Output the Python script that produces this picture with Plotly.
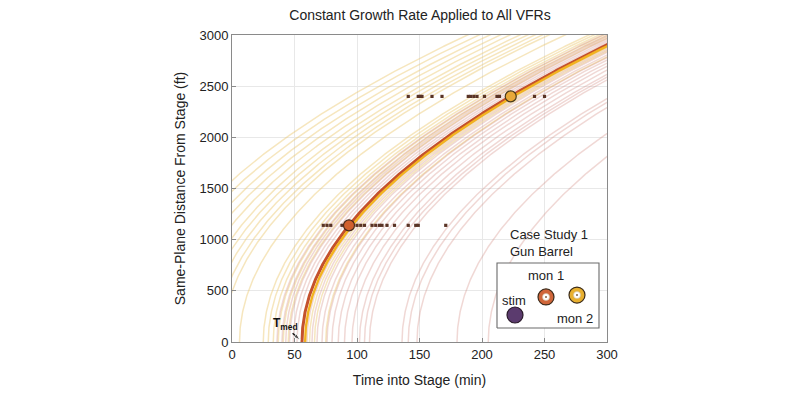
import numpy as np
import plotly.graph_objects as go

# ---- data ----
growth_rate = 186.0          # ft / sqrt(min), same for all VFR curves
depth_max = 3100.0

# start times (min) of the faint VFR curves
yellow_starts = [-72, -63, -54, -46, -38, -30, -24, -18, -12, -7, 6, 25, 29, 33, 37, 41, 45, 62, 66, 75]
red_starts = [36, 40, 43, 46, 49, 52, 60, 64, 68, 72, 76, 80, 85, 90, 96, 102, 106, 110,
              136, 141, 148, 180, 205]

# highlighted curves (mon 1 median / mon 2 median)
main_red_start = 56.0
main_yellow_start = 58.5

# observed event times
mon1_times = [73, 76, 79, 88, 100, 103, 106, 112, 115, 118, 120, 124, 130, 141, 147, 149, 171]
mon1_depth = 1140
mon2_times = [141, 149, 150.5, 152, 160, 168, 189, 191, 193.5, 196, 202, 212, 214, 242, 250]
mon2_depth = 2400
mon1_median = 93.6
mon2_median = 223.0

depth_samples = np.linspace(0, depth_max, 300)


def curve(t0):
    t = t0 + (depth_samples / growth_rate) ** 2
    return t, depth_samples


fig = go.Figure()

for t0 in yellow_starts:
    x, y = curve(t0)
    fig.add_trace(go.Scatter(x=x, y=y, mode="lines", hoverinfo="skip",
                             line=dict(color="rgba(236,200,110,0.45)", width=1.5)))
for t0 in red_starts:
    x, y = curve(t0)
    fig.add_trace(go.Scatter(x=x, y=y, mode="lines", hoverinfo="skip",
                             line=dict(color="rgba(205,125,115,0.3)", width=1.5)))

x, y = curve(main_red_start)
fig.add_trace(go.Scatter(x=x, y=y, mode="lines", line=dict(color="#c4512c", width=3.0)))
x, y = curve(main_yellow_start)
fig.add_trace(go.Scatter(x=x, y=y, mode="lines", line=dict(color="#f2b320", width=2.4)))

# event dots
fig.add_trace(go.Scatter(x=mon1_times, y=[mon1_depth] * len(mon1_times), mode="markers",
                         marker=dict(symbol="square", size=3.2, color="#5a3426")))
fig.add_trace(go.Scatter(x=mon2_times, y=[mon2_depth] * len(mon2_times), mode="markers",
                         marker=dict(symbol="square", size=3.2, color="#5a3426")))

# medians
fig.add_trace(go.Scatter(x=[mon1_median], y=[mon1_depth], mode="markers",
                         marker=dict(size=11, color="#d0602e", line=dict(color="#4a2a1a", width=1.2))))
fig.add_trace(go.Scatter(x=[mon2_median], y=[mon2_depth], mode="markers",
                         marker=dict(size=11, color="#e8a83a", line=dict(color="#4a3a1a", width=1.2))))

# legend box (white fill covering the curves)
box_x = [212, 293.6, 293.6, 212, 212]
box_y = [137, 137, 772, 772, 137]
fig.add_trace(go.Scatter(x=box_x, y=box_y, mode="lines", fill="toself", fillcolor="white",
                         line=dict(color="#6a6a6a", width=1.1), hoverinfo="skip"))

# legend symbols
fig.add_trace(go.Scatter(x=[226.4], y=[264], mode="markers",
                         marker=dict(size=16, color="#5b3b6e", line=dict(color="#2a1a2a", width=1.2))))
fig.add_trace(go.Scatter(x=[251.2, 276], y=[440, 459], mode="markers",
                         marker=dict(size=16, color=["#d0663a", "#e8b030"],
                                     line=dict(color="#3a2a1a", width=1.2))))
fig.add_trace(go.Scatter(x=[251.2, 276], y=[440, 459], mode="markers",
                         marker=dict(size=7, color="white", line=dict(color="#d0c0a0", width=0.6))))
fig.add_trace(go.Scatter(x=[251.2, 276], y=[440, 459], mode="markers",
                         marker=dict(size=2, color="#806040")))

# T_med arrow
fig.add_trace(go.Scatter(x=[48.5, 54.5], y=[85, 20], mode="lines+markers", hoverinfo="skip",
                         line=dict(color="#111", width=1.5),
                         marker=dict(symbol=["circle", "arrow"], size=[0, 7], angleref="previous",
                                     color="#111")))

font_main = "Liberation Sans, Arial, Helvetica, sans-serif"
txt = dict(font=dict(family=font_main, size=13, color="#222"), showarrow=False)
annotations = [
    dict(x=221, y=1055, text="Case Study 1", xanchor="left", **txt),
    dict(x=221, y=880, text="Gun Barrel", xanchor="left", **txt),
    dict(x=251, y=650, text="mon 1", **txt),
    dict(x=225.5, y=410, text="stim", **txt),
    dict(x=274.5, y=232, text="mon 2", **txt),
    dict(x=42.5, y=175, text="<b>T<sub>med</sub></b>",
         font=dict(family=font_main, size=12, color="#111"), showarrow=False),
]

axis_common = dict(showline=True, mirror=True, linecolor="#8a8a8a", linewidth=1,
                   ticks="inside", ticklen=4, tickcolor="#8a8a8a",
                   showgrid=True, gridcolor="#e8e8e8", zeroline=False,
                   tickfont=dict(family=font_main, size=13, color="#222"))

fig.update_layout(
    width=800, height=398,
    margin=dict(l=224, r=201, t=27, b=64),
    paper_bgcolor="white", plot_bgcolor="white",
    showlegend=False,
    title=dict(text="Constant Growth Rate Applied to All VFRs", x=0.515, xanchor="center",
               y=0.982, yanchor="middle",
               font=dict(family=font_main, size=14, color="#222")),
    xaxis=dict(range=[0, 300], dtick=50, tick0=0,
               title=dict(text="Time into Stage (min)", standoff=14,
                          font=dict(family=font_main, size=14, color="#222")),
               **axis_common),
    yaxis=dict(range=[0, 3000], dtick=500, tick0=0,
               title=dict(text="Same-Plane Distance From Stage (ft)", standoff=10,
                          font=dict(family=font_main, size=14, color="#222")),
               **axis_common),
    annotations=annotations,
)

fig.write_html("out.html")
